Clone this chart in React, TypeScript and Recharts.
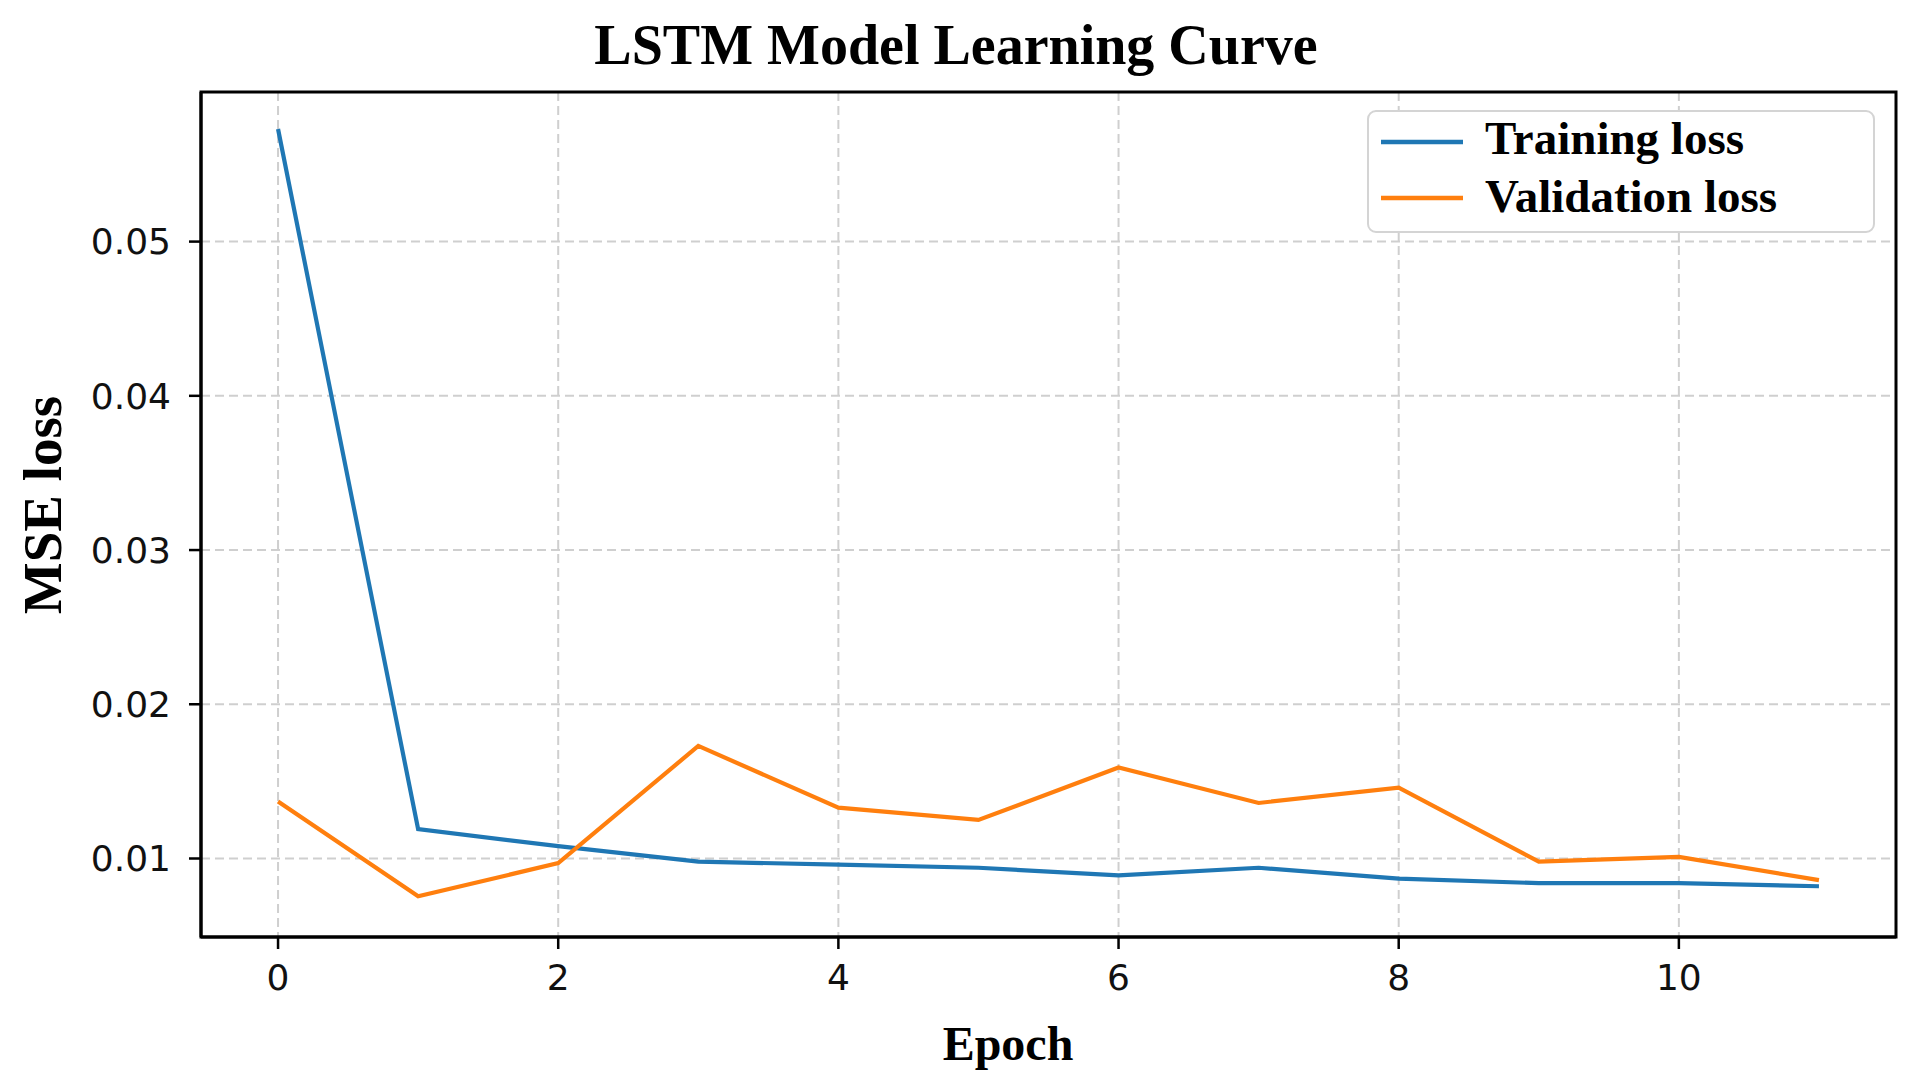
import React from 'react';
import {
  LineChart,
  Line,
  XAxis,
  YAxis,
  CartesianGrid,
  Legend,
  ReferenceArea
} from 'recharts';

const epochs = [0, 1, 2, 3, 4, 5, 6, 7, 8, 9, 10, 11];
const trainingLoss = [0.0573, 0.0119, 0.0108, 0.0098, 0.0096, 0.0094, 0.0089, 0.0094, 0.0087, 0.0084, 0.0084, 0.0082];
const validationLoss = [0.0137, 0.00755, 0.0097, 0.0173, 0.0133, 0.0125, 0.0159, 0.0136, 0.0146, 0.0098, 0.0101, 0.0086];
const xTicks = [0, 2, 4, 6, 8, 10];
const yTicks = [0.01, 0.02, 0.03, 0.04, 0.05];
const xDomain: [number, number] = [-0.55, 11.55];
const yDomain: [number, number] = [0.00491, 0.0597];

const data = epochs.map((epoch, i) => ({
  epoch,
  train: trainingLoss[i],
  val: validationLoss[i]
}));

const SERIF = '"Liberation Serif", "DejaVu Serif", serif';
const SANS = '"DejaVu Sans", sans-serif';

// legend drawn as a small svg box, reading names/colours from the series
const LegendBox = ({ payload }: any) => {
  if (!payload) return null;
  return (
    <svg width={508} height={123} style={{ display: 'block', overflow: 'visible' }}>
      <rect x={1} y={1} width={506} height={121} rx={8} ry={8} fill="#fff" stroke="#d4d4d4" strokeWidth={2} />
      {payload.map((entry: any, i: number) => (
        <g key={entry.value}>
          <line x1={14} x2={96} y1={32 + i * 56} y2={32 + i * 56} stroke={entry.color} strokeWidth={4.5} />
          <text x={118} y={44 + i * 58} fontFamily={SERIF} fontWeight="bold" fontSize={47} fill="#000">
            {entry.value}
          </text>
        </g>
      ))}
    </svg>
  );
};

const App: React.FC = () => {
  return (
    <div style={{ position: 'absolute', left: 0, top: 0, width: 1918, height: 1087, background: '#fff' }}>
      <LineChart
        width={1918}
        height={1087}
        data={data}
        margin={{ top: 92, right: 22, bottom: 0, left: 0 }}
      >
        <CartesianGrid stroke="#cfcfcf" strokeWidth={2} strokeDasharray="9 5" />
        <XAxis
          dataKey="epoch"
          type="number"
          domain={xDomain}
          ticks={xTicks}
          allowDataOverflow
          height={150}
          axisLine={{ stroke: '#000', strokeWidth: 3 }}
          tickLine={{ stroke: '#000', strokeWidth: 2.5 }}
          tickSize={12}
          tickMargin={15}
          tick={{ fontFamily: SANS, fontSize: 36, fill: '#111' }}
        />
        <YAxis
          type="number"
          domain={yDomain}
          ticks={yTicks}
          allowDataOverflow
          width={201}
          axisLine={{ stroke: '#000', strokeWidth: 3 }}
          tickLine={{ stroke: '#000', strokeWidth: 2.5 }}
          tickSize={12}
          tickMargin={18}
          tick={{ fontFamily: SANS, fontSize: 36, fill: '#111' }}
        />
        <ReferenceArea
          x1={xDomain[0]}
          x2={xDomain[1]}
          y1={yDomain[0]}
          y2={yDomain[1]}
          fill="none"
          fillOpacity={0}
          stroke="#000"
          strokeWidth={3}
          strokeOpacity={1}
        />
        <Line
          type="linear"
          dataKey="train"
          name="Training loss"
          stroke="#1f77b4"
          strokeWidth={4.2}
          dot={false}
          isAnimationActive={false}
        />
        <Line
          type="linear"
          dataKey="val"
          name="Validation loss"
          stroke="#ff7f0e"
          strokeWidth={4.2}
          dot={false}
          isAnimationActive={false}
        />
        <Legend
          content={<LegendBox />}
          wrapperStyle={{ position: 'absolute', left: 1367, top: 110, width: 508, height: 0, overflow: 'visible' }}
        />
      </LineChart>
      <svg
        width={1918}
        height={1087}
        style={{ position: 'absolute', left: 0, top: 0, pointerEvents: 'none' }}
      >
        <text x={956} y={64} textAnchor="middle" fontFamily={SERIF} fontWeight="bold" fontSize={56} fill="#000">
          LSTM Model Learning Curve
        </text>
        <text
          transform="translate(61,505) rotate(-90)"
          textAnchor="middle"
          fontFamily={SERIF}
          fontWeight="bold"
          fontSize={55}
          fill="#000"
        >
          MSE loss
        </text>
        <text x={1008} y={1060} textAnchor="middle" fontFamily={SERIF} fontWeight="bold" fontSize={48} fill="#000">
          Epoch
        </text>
      </svg>
    </div>
  );
};

export default App;
